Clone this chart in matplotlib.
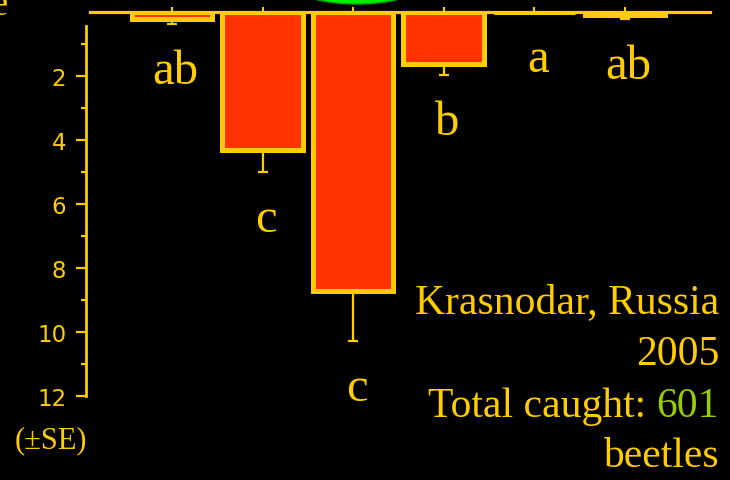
import numpy as np
import matplotlib
matplotlib.use("Agg")
import matplotlib.pyplot as plt
from matplotlib.patches import Ellipse
from matplotlib.ticker import FixedLocator

# Mean beetles caught per trap (+SE) and significance groups
treatments = [0, 1, 2, 3, 4, 5]
mean_catch = [0.23, 4.30, 8.73, 1.61, 0.0, 0.08]
se_catch = [0.14, 0.70, 1.55, 0.36, 0.0, 0.14]
sig_groups = ["ab", "c", "c", "b", "a", "ab"]
y_major = [2, 4, 6, 8, 10, 12]
y_minor = [1, 3, 5, 7, 9, 11]

YEL = "#FFCC00"
RED = "#FF3300"
GRN = "#99CC00"
SERIF = "Liberation Serif"

W, H = 730, 481
fig = plt.figure(figsize=(W / 100, H / 100), dpi=100, facecolor="black")
ax = fig.add_axes([90 / W, 1 - 397 / H, 620 / W, (397 - 13) / H])
ax.set_facecolor("black")

x = np.arange(len(treatments))
lower = np.zeros(len(treatments))
ax.errorbar(x, mean_catch, yerr=[lower, se_catch], fmt="none", ecolor=YEL,
            elinewidth=1.6, capsize=3.8, capthick=1.6, zorder=2)
ax.bar(x, mean_catch, width=0.89, color=RED, edgecolor=YEL, linewidth=3.6,
       zorder=3)

for xi, m, s, g in zip(x, mean_catch, se_catch, sig_groups):
    ax.text(xi + 0.04, m + s + 1.85, g, ha="center", va="baseline",
            fontsize=35, family=SERIF, color=YEL)

ax.set_xlim(-0.905, 5.94)
ax.set_ylim(12, 0)

for side in ("right", "bottom"):
    ax.spines[side].set_visible(False)
ax.spines["top"].set_color(YEL)
ax.spines["top"].set_linewidth(2.3)
ax.spines["top"].set_zorder(4)
ax.spines["left"].set_color(YEL)
ax.spines["left"].set_linewidth(2.0)
ax.spines["left"].set_position(("outward", 2.9))
ax.spines["left"].set_bounds(0.45, 12)

ax.xaxis.tick_top()
ax.set_xticks(x)
ax.set_xticklabels([])
ax.tick_params(axis="x", which="major", direction="out", length=3.8,
               width=1.5, color=YEL)

ax.yaxis.set_major_locator(FixedLocator(y_major))
ax.yaxis.set_minor_locator(FixedLocator(y_minor))
ax.tick_params(axis="y", which="major", length=7.2, width=1.6, color=YEL,
               labelcolor=YEL, labelsize=16.5, pad=7)
ax.tick_params(axis="y", which="minor", length=3.6, width=1.6, color=YEL)
for lab in ax.get_yticklabels():
    lab.set_family("DejaVu Sans")

# Site / total annotation block
FS = 30
fig.text(719 / W, 1 - 313 / H, "Krasnodar, Russia", ha="right",
         va="baseline", fontsize=FS, family=SERIF, color=YEL)
fig.text(719 / W, 1 - 365 / H, "2005", ha="right", va="baseline",
         fontsize=FS, family=SERIF, color=YEL)
t_total = fig.text(719 / W, 1 - 417 / H, "601", ha="right", va="baseline",
                   fontsize=FS, family=SERIF, color=GRN)
ax.annotate("Total caught: ", xy=(0, 0), xycoords=t_total, ha="right",
            va="bottom", fontsize=FS, family=SERIF, color=YEL,
            annotation_clip=False)
fig.text(719 / W, 1 - 467 / H, "beetles", ha="right", va="baseline",
         fontsize=FS, family=SERIF, color=YEL)

fig.text(51 / W, 1 - 448 / H, "(±SE)", ha="center", va="baseline",
         fontsize=22, family=SERIF, color=YEL)

# fragments running off the top edge
fig.text(8 / W, 1 - 15 / H, "e", ha="right", va="baseline", fontsize=28,
         family=SERIF, color=YEL)
fig.add_artist(Ellipse((3.57, 4.90), 1.10, 0.28, transform=fig.dpi_scale_trans,
                       facecolor="#00EE00", edgecolor="#00AA00", linewidth=1))

fig.savefig("out.png", dpi=100, facecolor="black")
